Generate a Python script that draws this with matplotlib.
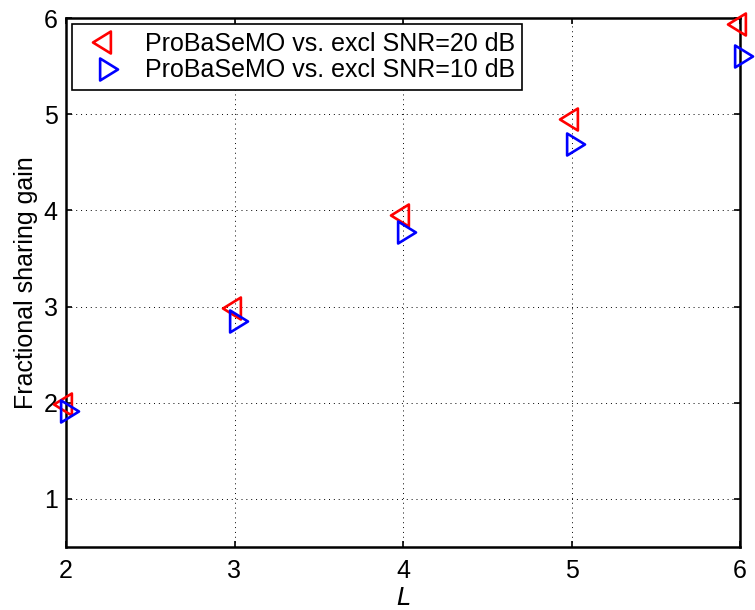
import matplotlib
matplotlib.use('Agg')
import matplotlib.pyplot as plt
from matplotlib.path import Path

# data
L = [2, 3, 4, 5, 6]
gain_20dB = [1.99, 2.98, 3.95, 4.95, 5.94]
gain_10dB = [1.91, 2.85, 3.78, 4.69, 5.60]
labels = ['ProBaSeMO vs. excl SNR=20 dB', 'ProBaSeMO vs. excl SNR=10 dB']

plt.rcParams['font.family'] = ['Liberation Sans', 'DejaVu Sans']
plt.rcParams['font.size'] = 18

# MATLAB style narrow triangles, tip on the data point
tri_left = Path([(-1, 0), (0.43, 0.88), (0.43, -0.88), (-1, 0)],
                [Path.MOVETO, Path.LINETO, Path.LINETO, Path.CLOSEPOLY])
tri_right = Path([(1, 0), (-0.43, 0.88), (-0.43, -0.88), (1, 0)],
                 [Path.MOVETO, Path.LINETO, Path.LINETO, Path.CLOSEPOLY])

fig = plt.figure(figsize=(7.55, 6.1), dpi=100)
ax = fig.add_axes([66/755, 1-547/610, 674/755, 529/610])

ax.plot(L, gain_20dB, linestyle='none', marker=tri_left, markersize=18,
        markerfacecolor='none', markeredgecolor='red', markeredgewidth=1.9,
        clip_on=False, label=labels[0], zorder=5)
ax.plot(L, gain_10dB, linestyle='none', marker=tri_right, markersize=18,
        markerfacecolor='none', markeredgecolor='blue', markeredgewidth=1.9,
        clip_on=False, label=labels[1], zorder=5)

ax.set_xlim(2, 6)
ax.set_ylim(0.5, 6)
ax.set_xticks([2, 3, 4, 5, 6])
ax.set_yticks([1, 2, 3, 4, 5, 6])
ax.grid(True, color='black', linestyle=(0, (1, 4)), linewidth=0.7)
ax.tick_params(direction='in', length=4, width=1.2, top=True, right=True)
ax.tick_params(axis='x', pad=9)
ax.tick_params(axis='y', pad=6)
for s in ax.spines.values():
    s.set_linewidth(1.8)

ax.set_xlabel('$L$', labelpad=2)
ax.set_ylabel('Fractional sharing gain', labelpad=4)

leg = ax.legend(loc='upper left', borderaxespad=0.25, fancybox=False,
                framealpha=1, edgecolor='black', handlelength=2.0,
                handletextpad=0.6, borderpad=0.3, labelspacing=0.1,
                fontsize=18)
leg.get_frame().set_linewidth(1.2)

fig.savefig('out.png', dpi=100)
